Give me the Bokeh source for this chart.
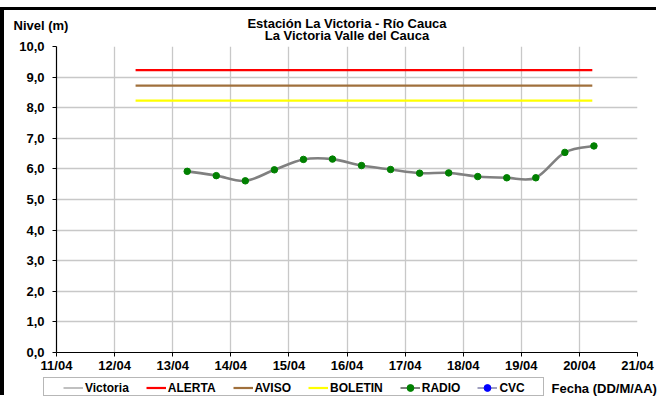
import pandas as pd
from bokeh.plotting import figure
from bokeh.models import Range1d, FixedTicker, Legend, LegendItem, Label
from bokeh.embed import file_html
from bokeh.resources import INLINE

# ---------------- data ----------------
title_lines = ["Estación La Victoria - Río Cauca", "La Victoria Valle del Cauca"]
y_axis_title = "Nivel (m)"
x_axis_title = "Fecha (DD/M/AA)"

x_tick_dates = ["2012-04-11", "2012-04-12", "2012-04-13", "2012-04-14", "2012-04-15", "2012-04-16",
                "2012-04-17", "2012-04-18", "2012-04-19", "2012-04-20", "2012-04-21"]
x_tick_labels = ["11/04", "12/04", "13/04", "14/04", "15/04", "16/04",
                 "17/04", "18/04", "19/04", "20/04", "21/04"]
y_ticks = [0, 1, 2, 3, 4, 5, 6, 7, 8, 9, 10]
y_tick_labels = ["0,0", "1,0", "2,0", "3,0", "4,0", "5,0", "6,0", "7,0", "8,0", "9,0", "10,0"]

radio_times = ["2012-04-13 06:00", "2012-04-13 18:00", "2012-04-14 06:00", "2012-04-14 18:00",
               "2012-04-15 06:00", "2012-04-15 18:00", "2012-04-16 06:00", "2012-04-16 18:00",
               "2012-04-17 06:00", "2012-04-17 18:00", "2012-04-18 06:00", "2012-04-18 18:00",
               "2012-04-19 06:00", "2012-04-19 18:00", "2012-04-20 06:00"]
radio_levels = [5.92, 5.78, 5.61, 5.97, 6.31, 6.32, 6.11, 5.98, 5.86, 5.87, 5.75, 5.71, 5.71, 6.54, 6.75]

threshold_names = ["ALERTA", "AVISO", "BOLETIN"]
threshold_levels = [9.23, 8.72, 8.23]
threshold_colors = ["#ff0000", "#a0703c", "#ffff00"]
threshold_start = "2012-04-12 08:40"
threshold_end = "2012-04-20 05:20"

series_names = ["Victoria", "RADIO", "CVC"]
series_line_colors = ["#c0c0c0", "#808080", "#a0a0c0"]
series_marker_colors = [None, "#008000", "#0000ff"]

# ---------------- helpers ----------------
def ms(s):
    return pd.Timestamp(s).value / 1e6

tick_ms = [ms(d) for d in x_tick_dates]
xr = [ms(t) for t in radio_times]
yr = radio_levels
NAN = float("nan")

FONT = "Liberation Sans"
FS = "13px"

# ---------------- main chart ----------------
p = figure(width=656, height=388, x_axis_type="datetime",
           x_range=Range1d(tick_ms[0], tick_ms[-1]), y_range=Range1d(0, 10),
           output_backend="svg", toolbar_location=None,
           min_border_left=52, min_border_right=23, min_border_top=36, min_border_bottom=46)
p.styles = {"margin-top": "7px", "border-top": "3px solid black", "border-left": "4px solid black"}
p.outline_line_color = None
p.background_fill_color = "white"
p.border_fill_color = "white"

p.xaxis.ticker = FixedTicker(ticks=tick_ms)
p.xaxis.major_label_overrides = {t: l for t, l in zip(tick_ms, x_tick_labels)}
p.yaxis.ticker = FixedTicker(ticks=y_ticks)
p.yaxis.major_label_overrides = {t: l for t, l in zip(y_ticks, y_tick_labels)}
for ax in (p.xaxis[0], p.yaxis[0]):
    ax.axis_line_color = "black"
    ax.axis_line_width = 1.2
    ax.major_tick_line_color = "black"
    ax.major_tick_out = 4
    ax.major_tick_in = 0
    ax.minor_tick_line_color = None
    ax.major_label_text_font = FONT
    ax.major_label_text_font_style = "bold"
    ax.major_label_text_font_size = FS
    ax.major_label_text_color = "black"
p.yaxis.major_label_standoff = 8
p.xaxis.major_label_standoff = 1

p.xgrid.ticker = FixedTicker(ticks=tick_ms)
p.ygrid.ticker = FixedTicker(ticks=y_ticks)
p.grid.grid_line_color = "#c8c8c8"
p.grid.grid_line_width = 1.3

for lvl, col in zip(threshold_levels, threshold_colors):
    p.line(x=[ms(threshold_start), ms(threshold_end)], y=[lvl, lvl], line_color=col, line_width=2.2)

# smoothed RADIO curve (cubic Bezier through the data points, Excel-style)
n = len(xr)
x0, y0, x1, y1, cx0, cy0, cx1, cy1 = [], [], [], [], [], [], [], []
for i in range(n - 1):
    pm = i - 1 if i > 0 else i
    pp = i + 2 if i + 2 < n else i + 1
    x0.append(xr[i]); y0.append(yr[i]); x1.append(xr[i + 1]); y1.append(yr[i + 1])
    cx0.append(xr[i] + (xr[i + 1] - xr[pm]) / 6); cy0.append(yr[i] + (yr[i + 1] - yr[pm]) / 6)
    cx1.append(xr[i + 1] - (xr[pp] - xr[i]) / 6); cy1.append(yr[i + 1] - (yr[pp] - yr[i]) / 6)
p.bezier(x0=x0, y0=y0, x1=x1, y1=y1, cx0=cx0, cy0=cy0, cx1=cx1, cy1=cy1,
         line_color=series_line_colors[1], line_width=2.6)
p.scatter(x=xr, y=yr, size=6.5, fill_color=series_marker_colors[1], line_color=series_marker_colors[1])

# ---------------- overlay for titles / legend (page pixel space) ----------------
W, H = 660, 400
o = figure(width=W, height=H, x_range=Range1d(0, W), y_range=Range1d(H, 0),
           output_backend="svg", toolbar_location=None, min_border=0,
           x_axis_location=None, y_axis_location=None)
o.styles = {"position": "absolute", "top": "0px", "left": "0px"}
o.grid.visible = False
o.outline_line_color = None
o.background_fill_alpha = 0
o.border_fill_alpha = 0

def lab(text, x, y, align):
    o.add_layout(Label(x=x, y=y, text=text, text_align=align, text_baseline="middle",
                       text_font=FONT, text_font_style="bold", text_font_size=FS, text_color="black"))

lab(y_axis_title, 13, 25, "left")
lab(title_lines[0], 346.5, 23, "center")
lab(title_lines[1], 346.5, 35, "center")
lab(x_axis_title, 551, 388, "left")

items = []
r = o.line(x=[NAN], y=[NAN], line_color=series_line_colors[0], line_width=2)
items.append(LegendItem(label=series_names[0], renderers=[r]))
for name, col in zip(threshold_names, threshold_colors):
    r = o.line(x=[NAN], y=[NAN], line_color=col, line_width=2.2)
    items.append(LegendItem(label=name, renderers=[r]))
for k in (1, 2):
    rl = o.line(x=[NAN], y=[NAN], line_color=series_line_colors[k], line_width=2)
    rs = o.scatter(x=[NAN], y=[NAN], size=5.5, fill_color=series_marker_colors[k],
                   line_color=series_marker_colors[k])
    items.append(LegendItem(label=series_names[k], renderers=[rl, rs]))

dummy = o.line(x=[NAN], y=[NAN], line_alpha=0)
box = Legend(items=[LegendItem(label=" ", renderers=[dummy])], location=(43, 4),
             orientation="horizontal", glyph_width=0, glyph_height=17, label_height=17,
             label_width=499, label_standoff=0, padding=0, margin=0, spacing=0,
             label_text_font_size="2px", border_line_color="#707070", border_line_width=1.5,
             background_fill_color="white", background_fill_alpha=1)
o.add_layout(box, "center")

legend = Legend(items=items, orientation="horizontal", location=(63, 4),
                label_text_font=FONT, label_text_font_style="bold", label_text_font_size="12px",
                label_text_color="black", glyph_width=20, glyph_height=17, label_height=17,
                label_width=0, label_standoff=2, spacing=17, padding=0, margin=0,
                border_line_color=None, background_fill_alpha=0)
o.add_layout(legend, "center")

open("out.html", "w").write(file_html([p, o], INLINE))
